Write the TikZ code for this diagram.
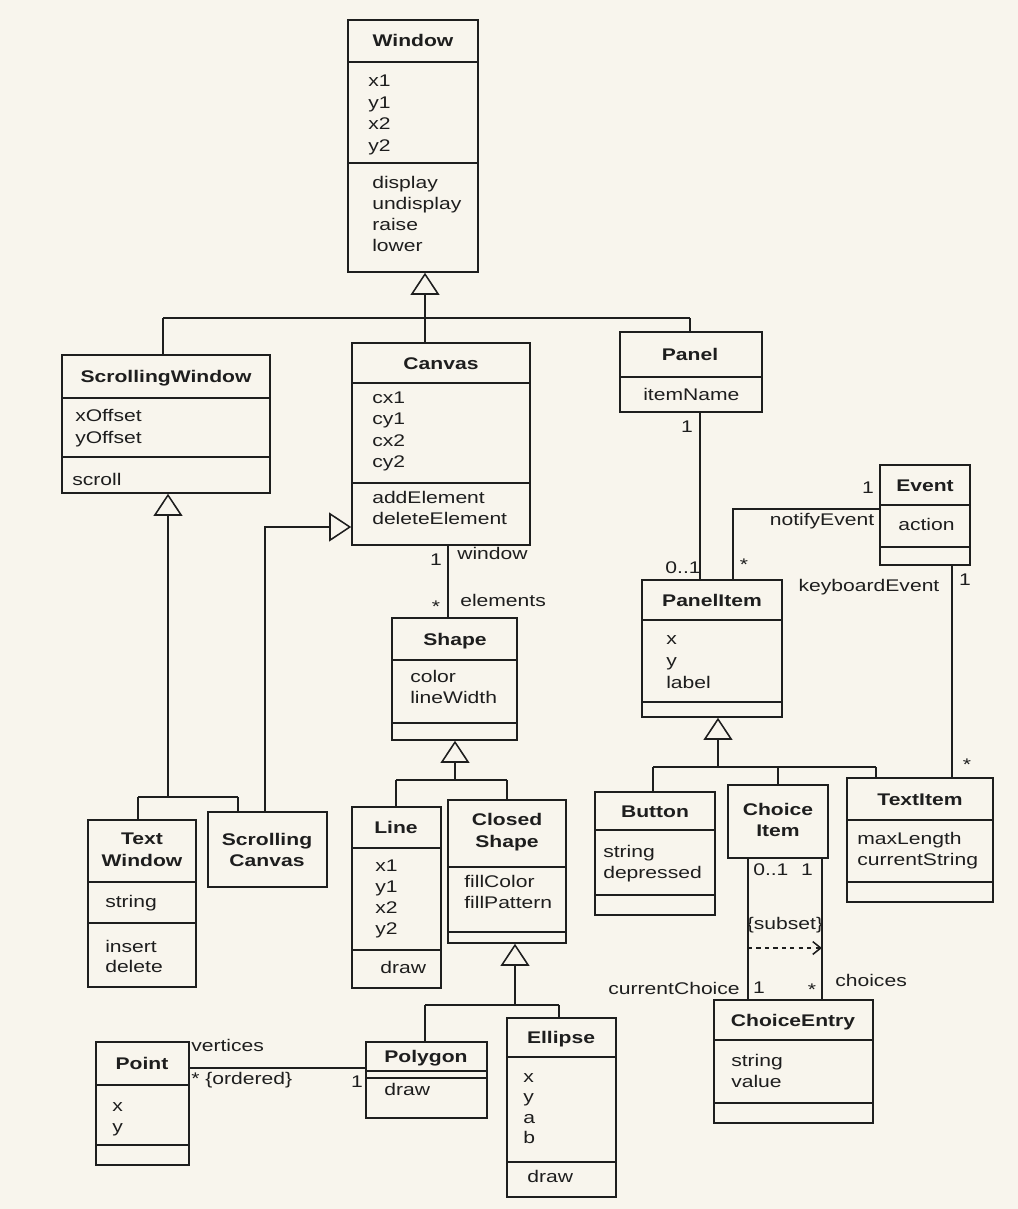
\documentclass[tikz,border=0pt]{standalone}
\usepackage{fontspec}
\setmainfont{Liberation Sans}[FakeStretch=1.25]
\usetikzlibrary{arrows.meta,fit}
\definecolor{paper}{RGB}{248,245,237}
\definecolor{ink}{RGB}{30,30,30}
\newcommand\umlfont{\fontsize{12}{15}\selectfont}
\newcommand\umlclass[5]{\node[box, fit={(#2,#3) (#4,#5)}] (#1) {};}
\newcommand\umldiv[2]{\draw[divline] (#1.west |- 0,#2) -- (#1.east |- 0,#2);}
\tikzset{
  box/.style={draw=ink, line width=1.1pt, inner sep=0pt},
  divline/.style={draw=ink, line width=1.1pt},
  conn/.style={draw=ink, line width=1.1pt},
  inh/.style={conn, -{Triangle[open, length=0.55cm, width=0.72cm]}},
  cname/.style={font=\umlfont\bfseries, inner sep=0pt, anchor=base, text=ink},
  cnametwo/.style={font=\fontsize{12}{15.5}\selectfont\bfseries, inner sep=0pt, align=center, text=ink},
  attr/.style={font=\umlfont, inner sep=0pt, anchor=base west, text=ink},
  lbl/.style={font=\umlfont, inner sep=0pt, text=ink},
}
\begin{document}
\begin{tikzpicture}[x=0.025cm, y=-0.025cm]
\fill[paper] (0,0) rectangle (1018,1209);
\useasboundingbox (0,0) rectangle (1018,1209);

% ---------- Window
\umlclass{window}{348}{20}{478}{272}
\umldiv{window}{62}\umldiv{window}{163}
\node[cname] (window-n) at (413,47) {Window};
\foreach \t [count=\i from 0] in {x1,y1,x2,y2}
  \node[attr] (window-a\i) at (368,{87+\i*21.5}) {\t};
\foreach \t [count=\i from 0] in {display,undisplay,raise,lower}
  \node[attr] (window-o\i) at (372,{188+\i*21.3}) {\t};

% ---------- ScrollingWindow
\umlclass{swin}{62}{355}{270}{493}
\umldiv{swin}{398}\umldiv{swin}{457}
\node[cname] (swin-n) at (166,382) {ScrollingWindow};
\node[attr] (swin-a0) at (75,421) {xOffset};
\node[attr] (swin-a1) at (75,443) {yOffset};
\node[attr] (swin-o0) at (72,485) {scroll};

% ---------- Canvas
\umlclass{canvas}{352}{343}{530}{545}
\umldiv{canvas}{383}\umldiv{canvas}{483}
\node[cname] (canvas-n) at (441,369) {Canvas};
\foreach \t [count=\i from 0] in {cx1,cy1,cx2,cy2}
  \node[attr] (canvas-a\i) at (372,{403+\i*21.5}) {\t};
\node[attr] (canvas-o0) at (372,503) {addElement};
\node[attr] (canvas-o1) at (372,524.5) {deleteElement};

% ---------- Panel
\umlclass{panel}{620}{332}{762}{412}
\umldiv{panel}{377}
\node[cname] (panel-n) at (690,360) {Panel};
\node[attr] (panel-a0) at (643,400) {itemName};

% ---------- Event
\umlclass{event}{880}{465}{970}{565}
\umldiv{event}{505}\umldiv{event}{547}
\node[cname] (event-n) at (925,491) {Event};
\node[attr] (event-a0) at (898,530) {action};

% ---------- PanelItem
\umlclass{pitem}{642}{580}{782}{717}
\umldiv{pitem}{620}\umldiv{pitem}{702}
\node[cname] (pitem-n) at (712,606) {PanelItem};
\foreach \t [count=\i from 0] in {x,y,label}
  \node[attr] (pitem-a\i) at (666,{644+\i*22}) {\t};

% ---------- Button
\umlclass{button}{595}{792}{715}{915}
\umldiv{button}{830}\umldiv{button}{895}
\node[cname] (button-n) at (655,817) {Button};
\node[attr] (button-a0) at (603,857) {string};
\node[attr] (button-a1) at (603,878) {depressed};

% ---------- ChoiceItem
\umlclass{choice}{728}{785}{828}{858}
\node[cnametwo] (choice-n) at (778,820) {Choice\\Item};

% ---------- TextItem
\umlclass{titem}{847}{778}{993}{902}
\umldiv{titem}{820}\umldiv{titem}{882}
\node[cname] (titem-n) at (920,805) {TextItem};
\node[attr] (titem-a0) at (857,844) {maxLength};
\node[attr] (titem-a1) at (857,865) {currentString};

% ---------- ChoiceEntry
\umlclass{centry}{714}{1000}{873}{1123}
\umldiv{centry}{1040}\umldiv{centry}{1103}
\node[cname] (centry-n) at (793,1026) {ChoiceEntry};
\node[attr] (centry-a0) at (731,1066) {string};
\node[attr] (centry-a1) at (731,1087) {value};

% ---------- Shape
\umlclass{shape}{392}{618}{517}{740}
\umldiv{shape}{660}\umldiv{shape}{723}
\node[cname] (shape-n) at (455,645) {Shape};
\node[attr] (shape-a0) at (410,682) {color};
\node[attr] (shape-a1) at (410,703) {lineWidth};

% ---------- Line
\umlclass{line}{352}{807}{441}{988}
\umldiv{line}{848}\umldiv{line}{950}
\node[cname] (line-n) at (396,833) {Line};
\foreach \t [count=\i from 0] in {x1,y1,x2,y2}
  \node[attr] (line-a\i) at (375,{871+\i*21.3}) {\t};
\node[attr] (line-o0) at (380,973) {draw};

% ---------- Closed Shape
\umlclass{cshape}{448}{800}{566}{943}
\umldiv{cshape}{867}\umldiv{cshape}{932}
\node[cnametwo] (cshape-n) at (507,832) {Closed\\Shape};
\node[attr] (cshape-a0) at (464,887) {fillColor};
\node[attr] (cshape-a1) at (464,908) {fillPattern};

% ---------- Polygon
\umlclass{polygon}{366}{1042}{487}{1118}
\umldiv{polygon}{1071}\umldiv{polygon}{1078}
\node[cname] (polygon-n) at (426,1062) {Polygon};
\node[attr] (polygon-o0) at (384,1095) {draw};

% ---------- Ellipse
\umlclass{ellipse}{507}{1018}{616}{1197}
\umldiv{ellipse}{1057}\umldiv{ellipse}{1162}
\node[cname] (ellipse-n) at (561,1043) {Ellipse};
\foreach \t [count=\i from 0] in {x,y,a,b}
  \node[attr] (ellipse-a\i) at (523,{1082+\i*20.5}) {\t};
\node[attr] (ellipse-o0) at (527,1182) {draw};

% ---------- Point
\umlclass{point}{96}{1042}{189}{1165}
\umldiv{point}{1085}\umldiv{point}{1145}
\node[cname] (point-n) at (142,1069) {Point};
\node[attr] (point-a0) at (112,1111) {x};
\node[attr] (point-a1) at (112,1132) {y};

% ---------- Text Window
\umlclass{twin}{88}{820}{196}{987}
\umldiv{twin}{882}\umldiv{twin}{923}
\node[cnametwo] (twin-n) at (142,850) {Text\\Window};
\node[attr] (twin-a0) at (105,907) {string};
\node[attr] (twin-o0) at (105,952) {insert};
\node[attr] (twin-o1) at (105,972) {delete};

% ---------- Scrolling Canvas
\umlclass{scanvas}{208}{812}{327}{887}
\node[cnametwo] (scanvas-n) at (267,850) {Scrolling\\Canvas};

% ================= connectors
% Window generalization
\coordinate (wbar) at (425,318);
\coordinate (wbarL) at (163,318);
\coordinate (wbarR) at (690,318);
\draw[conn] (wbarL) -- (wbarR);
\draw[inh] (wbar) -- (wbar |- window.south);
\draw[conn] (wbarL) -- (wbarL |- swin.north);
\draw[conn] (wbar) -- (wbar |- canvas.north);
\draw[conn] (wbarR) -- (wbarR |- panel.north);

% ScrollingWindow generalization
\coordinate (sbar) at (168,797);
\coordinate (sbarL) at (138,797);
\coordinate (sbarR) at (238,797);
\draw[inh] (sbar) -- (sbar |- swin.south);
\draw[conn] (sbarL) -- (sbarR);
\draw[conn] (sbarL) -- (sbarL |- twin.north);
\draw[conn] (sbarR) -- (sbarR |- scanvas.north);

% Canvas generalization (Scrolling Canvas)
\coordinate (cbend) at (265,527);
\draw[inh] (scanvas.north -| cbend) -- (cbend) -- (cbend -| canvas.west);

% Canvas -- Shape
\coordinate (csx) at (448,0);
\draw[conn] (canvas.south -| csx) -- (shape.north -| csx);
\node[lbl] (l-c1) at (436,560) {1};
\node[lbl, anchor=west] (l-cw) at (457,553) {window};
\node[lbl] (l-cs) at (436,607) {*};
\node[lbl, anchor=west] (l-ce) at (460,600) {elements};

% Shape generalization
\coordinate (shbar) at (455,780);
\coordinate (shbarL) at (396,780);
\coordinate (shbarR) at (507,780);
\draw[inh] (shbar) -- (shbar |- shape.south);
\draw[conn] (shbarL) -- (shbarR);
\draw[conn] (shbarL) -- (shbarL |- line.north);
\draw[conn] (shbarR) -- (shbarR |- cshape.north);

% Closed Shape generalization
\coordinate (csbar) at (515,1005);
\coordinate (csbarL) at (425,1005);
\coordinate (csbarR) at (559,1005);
\draw[inh] (csbar) -- (csbar |- cshape.south);
\draw[conn] (csbarL) -- (csbarR);
\draw[conn] (csbarL) -- (csbarL |- polygon.north);
\draw[conn] (csbarR) -- (csbarR |- ellipse.north);

% Point -- Polygon
\coordinate (ppy) at (0,1068);
\draw[conn] (point.east |- ppy) -- (polygon.west |- ppy);
\node[lbl, anchor=west] (l-pv) at (191,1045) {vertices};
\node[lbl, anchor=west] (l-po) at (191,1080) {* \{ordered\}};
\node[lbl] (l-p1) at (357,1082) {1};

% Panel -- PanelItem
\coordinate (pnx) at (700,0);
\draw[conn] (panel.south -| pnx) -- (pitem.north -| pnx);
\node[lbl] (l-pn1) at (687,427) {1};
\node[lbl] (l-pn01) at (683,568) {0..1};

% notifyEvent
\coordinate (nbend) at (733,509);
\draw[conn] (pitem.north -| nbend) -- (nbend) -- (nbend -| event.west);
\node[lbl] (l-ns) at (744,565) {*};
\node[lbl] (l-nn) at (822,521) {notifyEvent};
\node[lbl] (l-n1) at (868,488) {1};

% keyboardEvent
\coordinate (kx) at (952,0);
\draw[conn] (event.south -| kx) -- (titem.north -| kx);
\node[lbl] (l-k1) at (965,580) {1};
\node[lbl] (l-kn) at (869,587) {keyboardEvent};
\node[lbl] (l-ks) at (967,765) {*};

% PanelItem generalization
\coordinate (pbar) at (718,767);
\coordinate (pbarL) at (653,767);
\coordinate (pbarM) at (778,767);
\coordinate (pbarR) at (876,767);
\draw[inh] (pbar) -- (pbar |- pitem.south);
\draw[conn] (pbarL) -- (pbarR);
\draw[conn] (pbarL) -- (pbarL |- button.north);
\draw[conn] (pbarM) -- (pbarM |- choice.north);
\draw[conn] (pbarR) -- (pbarR |- titem.north);

% ChoiceItem -- ChoiceEntry
\coordinate (chl) at (748,0);
\coordinate (chr) at (822,0);
\draw[conn] (choice.south -| chl) -- (centry.north -| chl);
\draw[conn] (choice.south -| chr) -- (centry.north -| chr);
\coordinate (subA) at (748,948);
\coordinate (subB) at (822,948);
\draw[conn, dashed, -{Straight Barb[length=0.2cm, width=0.32cm]}] (subA) -- (subB);
\node[lbl] (l-sub) at (785,925) {\{subset\}};
\node[lbl, anchor=west] (l-ch01) at (753,870) {0..1};
\node[lbl] (l-ch1) at (807,870) {1};
\node[lbl, anchor=east] (l-cc) at (740,988) {currentChoice};
\node[lbl] (l-cc1) at (759,988) {1};
\node[lbl] (l-chs) at (812,990) {*};
\node[lbl, anchor=west] (l-chn) at (835,980) {choices};
\end{tikzpicture}
\end{document}
